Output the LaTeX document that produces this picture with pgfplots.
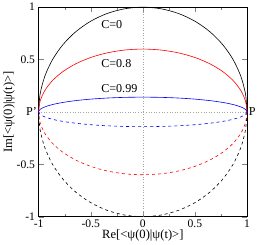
\documentclass[border=0pt]{standalone}
\usepackage{fontspec}
\setmainfont{Liberation Serif}
\usepackage{pgfplots}
\pgfplotsset{compat=1.18}
\begin{document}
\begin{tikzpicture}
\begin{axis}[
  scale only axis, width=207pt, height=208pt,
  xmin=-1, xmax=1, ymin=-1, ymax=1,
  xtick={-1,-0.5,0,0.5,1}, ytick={-1,-0.5,0.5,1},
  xticklabels={-1,-0.5,0,0.5,1}, yticklabels={-1,-0.5,0.5,1},
  minor tick num=1,
  tick align=inside, tick pos=both,
  major tick length=5pt, minor tick length=3pt,
  tick label style={font=\fontsize{11.5}{12}\selectfont},
  /pgf/number format/assume math mode=true,
  xlabel={Re[<ψ(0)|ψ(t)>]}, ylabel={Im[<ψ(0)|ψ(t)>]},
  label style={font=\fontsize{12.5}{14}\selectfont},
  xlabel style={yshift=5pt}, ylabel style={yshift=-5pt},
  clip=false, axis line style={line width=0.7pt},
]
\addplot[gray!70, dotted, line width=0.6pt] coordinates {(0,-1) (0,1)};
\addplot[gray!70, dotted, line width=0.6pt] coordinates {(-1,0) (1,0)};
% C=0
\addplot[black, line width=0.6pt, smooth] coordinates {
(1,0) (0.9848,0.1736) (0.9397,0.3420) (0.8660,0.5) (0.7660,0.6428) (0.6428,0.7660) (0.5,0.8660) (0.3420,0.9397) (0.1736,0.9848) (0,1)
(-0.1736,0.9848) (-0.3420,0.9397) (-0.5,0.8660) (-0.6428,0.7660) (-0.7660,0.6428) (-0.8660,0.5) (-0.9397,0.3420) (-0.9848,0.1736) (-1,0)};
\addplot[black, line width=0.6pt, smooth, dashed] coordinates {
(1,0) (0.9848,-0.1736) (0.9397,-0.3420) (0.8660,-0.5) (0.7660,-0.6428) (0.6428,-0.7660) (0.5,-0.8660) (0.3420,-0.9397) (0.1736,-0.9848) (0,-1)
(-0.1736,-0.9848) (-0.3420,-0.9397) (-0.5,-0.8660) (-0.6428,-0.7660) (-0.7660,-0.6428) (-0.8660,-0.5) (-0.9397,-0.3420) (-0.9848,-0.1736) (-1,0)};
% C=0.8
\addplot[red, line width=0.6pt, smooth] coordinates {
(1,0) (0.9848,0.1042) (0.9397,0.2052) (0.8660,0.3) (0.7660,0.3857) (0.6428,0.4596) (0.5,0.5196) (0.3420,0.5638) (0.1736,0.5909) (0,0.6)
(-0.1736,0.5909) (-0.3420,0.5638) (-0.5,0.5196) (-0.6428,0.4596) (-0.7660,0.3857) (-0.8660,0.3) (-0.9397,0.2052) (-0.9848,0.1042) (-1,0)};
\addplot[red, line width=0.6pt, smooth, dashed] coordinates {
(1,0) (0.9848,-0.1042) (0.9397,-0.2052) (0.8660,-0.3) (0.7660,-0.3857) (0.6428,-0.4596) (0.5,-0.5196) (0.3420,-0.5638) (0.1736,-0.5909) (0,-0.6)
(-0.1736,-0.5909) (-0.3420,-0.5638) (-0.5,-0.5196) (-0.6428,-0.4596) (-0.7660,-0.3857) (-0.8660,-0.3) (-0.9397,-0.2052) (-0.9848,-0.1042) (-1,0)};
% C=0.99
\addplot[blue, line width=0.6pt, smooth] coordinates {
(1,0) (0.9848,0.0245) (0.9397,0.0482) (0.8660,0.0705) (0.7660,0.0906) (0.6428,0.1080) (0.5,0.1221) (0.3420,0.1325) (0.1736,0.1389) (0,0.141)
(-0.1736,0.1389) (-0.3420,0.1325) (-0.5,0.1221) (-0.6428,0.1080) (-0.7660,0.0906) (-0.8660,0.0705) (-0.9397,0.0482) (-0.9848,0.0245) (-1,0)};
\addplot[blue, line width=0.6pt, smooth, dashed] coordinates {
(1,0) (0.9848,-0.0245) (0.9397,-0.0482) (0.8660,-0.0705) (0.7660,-0.0906) (0.6428,-0.1080) (0.5,-0.1221) (0.3420,-0.1325) (0.1736,-0.1389) (0,-0.141)
(-0.1736,-0.1389) (-0.3420,-0.1325) (-0.5,-0.1221) (-0.6428,-0.1080) (-0.7660,-0.0906) (-0.8660,-0.0705) (-0.9397,-0.0482) (-0.9848,-0.0245) (-1,0)};
\node[font=\fontsize{12}{14}\selectfont, anchor=west, inner sep=0pt] at (axis cs:-0.40,0.83) {C=0};
\node[font=\fontsize{12}{14}\selectfont, anchor=west, inner sep=0pt] at (axis cs:-0.40,0.46) {C=0.8};
\node[font=\fontsize{12}{14}\selectfont, anchor=west, inner sep=0pt] at (axis cs:-0.40,0.225) {C=0.99};
\node[font=\fontsize{12}{14}\selectfont, anchor=east, inner sep=1.5pt] at (axis cs:-1,0) {P'};
\node[font=\fontsize{12}{14}\selectfont, anchor=west, inner sep=1.5pt] at (axis cs:1,0) {P};
\end{axis}
\end{tikzpicture}
\end{document}
